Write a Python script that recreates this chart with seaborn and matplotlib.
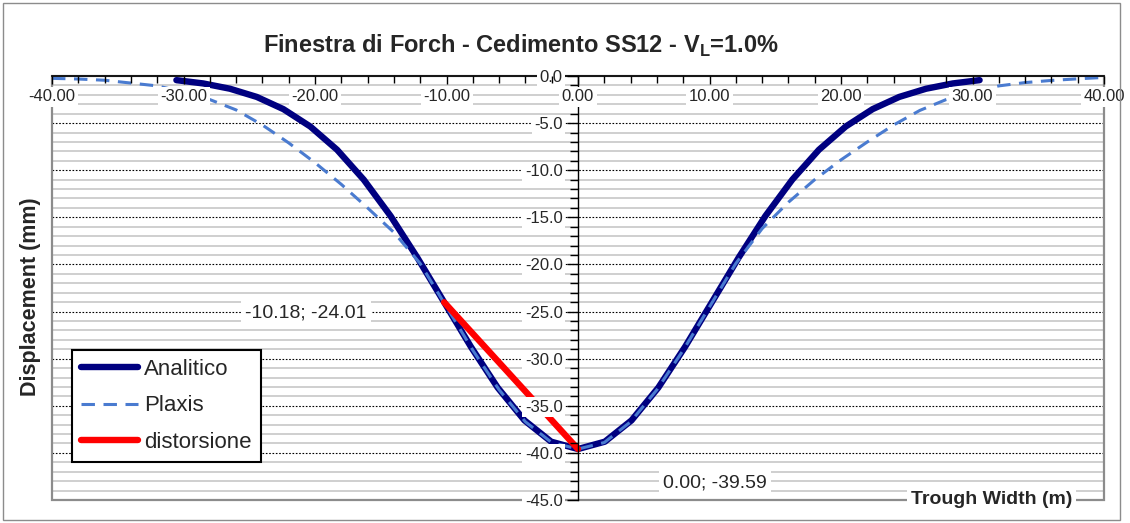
import numpy as np
import matplotlib
matplotlib.use("Agg")
import matplotlib.pyplot as plt
from matplotlib.patches import Rectangle
from matplotlib.ticker import MultipleLocator, FormatStrFormatter
import seaborn as sns

# Analytical settlement trough (m, mm)
analitico_x = [-30.54, -28.50, -26.47, -24.43, -22.40, -20.36, -18.32, -16.29,
               -14.25, -12.22, -10.18, -8.14, -6.11, -4.07, -2.04, 0.00,
               2.04, 4.07, 6.11, 8.14, 10.18, 12.22, 14.25, 16.29,
               18.32, 20.36, 22.40, 24.43, 26.47, 28.50, 30.54]
analitico_y = [-0.44, -0.79, -1.35, -2.22, -3.52, -5.36, -7.83, -11.01,
               -14.86, -19.27, -24.01, -28.75, -33.07, -36.55, -38.81, -39.59,
               -38.81, -36.55, -33.07, -28.75, -24.01, -19.27, -14.86, -11.01,
               -7.83, -5.36, -3.52, -2.22, -1.35, -0.79, -0.44]

# Plaxis FEM settlement trough (m, mm)
plaxis_x = [-40, -38, -36, -34, -32, -30, -28, -26, -24, -22, -20, -18, -16, -14,
            -12, -10, -8, -6, -4, -2, 0, 2, 4, 6, 8, 10, 12, 14, 16, 18, 20,
            22, 24, 26, 28, 30, 32, 34, 36, 38, 40]
plaxis_y = [-0.25, -0.32, -0.45, -0.75, -1.05, -1.70, -2.50, -3.60, -5.20, -7.10,
            -9.20, -11.50, -14.00, -16.60, -19.90, -24.50, -29.10, -33.30, -36.70,
            -38.90, -39.59, -38.90, -36.70, -33.30, -29.10, -24.50, -19.90, -16.20,
            -13.40, -11.00, -8.90, -7.00, -5.20, -3.65, -2.50, -1.75, -1.05, -0.70,
            -0.47, -0.30, -0.15]

# Angular distortion segment: inflection point -> trough centre
distorsione_x = [-10.18, 0.00]
distorsione_y = [-24.01, -39.59]

series_labels = ["Analitico", "Plaxis", "distorsione"]
title_text = r"Finestra di Forch - Cedimento SS12 - V$_\mathbf{L}$=1.0%"
x_label = "Trough Width (m)"
y_label = "Displacement (mm)"

sns.set_style("white")
plt.rcParams["font.family"] = ["Liberation Sans", "DejaVu Sans"]
plt.rcParams["axes.unicode_minus"] = False
plt.rcParams["mathtext.fontset"] = "custom"
plt.rcParams["mathtext.rm"] = "Liberation Sans"
plt.rcParams["mathtext.bf"] = "Liberation Sans:bold"

W, H = 1130, 523
fig = plt.figure(figsize=(W / 100, H / 100), dpi=100)
ax = fig.add_axes([52 / W, 23 / H, 1052 / W, 424 / H])
ax.set_xlim(-40, 40)
ax.set_ylim(-45, 0)

# horizontal gridlines: light minor every 1 mm, dotted major every 5 mm
minor_levels = [v for v in np.arange(-44, 0, 1.0) if v % 5 != 0]
ax.hlines(minor_levels, -40, 40, color="#cfcfcf", lw=1.4, zorder=0.6)
ax.hlines(np.arange(-40, 0, 5.0), -40, 40, color="black", lw=0.8,
          linestyles=(0, (1.5, 1.5)), zorder=0.7)

# plot-area frame
ax.add_patch(Rectangle((0, 0), 1, 1, transform=ax.transAxes, fill=False,
                       ec="#8c8c8c", lw=1.6, zorder=0.8, clip_on=False))

sns.lineplot(x=analitico_x, y=analitico_y, ax=ax, color="#000080", lw=4.6,
             label=series_labels[0], solid_capstyle="round", zorder=3)
sns.lineplot(x=plaxis_x, y=plaxis_y, ax=ax, color="#4a7bd0", lw=2.2,
             linestyle=(0, (4.4, 2.8)), label=series_labels[1], zorder=3.2)
sns.lineplot(x=distorsione_x, y=distorsione_y, ax=ax, color="#ff0000", lw=4.6,
             label=series_labels[2], solid_capstyle="round", zorder=3.4)

# axes crossing: x axis along y=0 (top), y axis along x=0
for side in ("right", "bottom"):
    ax.spines[side].set_visible(False)
ax.spines["left"].set_position(("data", 0))
ax.spines["left"].set_color("black")
ax.spines["left"].set_linewidth(1.0)
ax.spines["top"].set_color("black")
ax.spines["top"].set_linewidth(1.2)
for side in ("left", "top"):
    ax.spines[side].set_zorder(3.9)
ax.yaxis.set_zorder(4.2)
ax.xaxis.set_zorder(4.6)

ax.xaxis.set_major_locator(MultipleLocator(10))
ax.xaxis.set_minor_locator(MultipleLocator(2))
ax.xaxis.set_major_formatter(FormatStrFormatter("%.2f"))
ax.tick_params(axis="x", which="both", top=True, bottom=False, labeltop=True,
               labelbottom=False, direction="in", width=1, color="black",
               labelsize=12, pad=-20.5)
ax.tick_params(axis="x", which="major", length=6)
ax.tick_params(axis="x", which="minor", length=5)

ax.yaxis.set_major_locator(MultipleLocator(5))
ax.yaxis.set_minor_locator(MultipleLocator(1))
ax.yaxis.set_major_formatter(FormatStrFormatter("%.1f"))
ax.tick_params(axis="y", which="both", left=True, right=False, direction="out",
               width=1, color="black", labelsize=12, pad=3)
ax.tick_params(axis="y", which="major", length=8)
ax.tick_params(axis="y", which="minor", length=6)

label_box = dict(boxstyle="square,pad=0.15", fc="white", ec="none")
for lbl in ax.get_xticklabels() + ax.get_yticklabels():
    lbl.set_bbox(label_box)

ax.set_xlabel(x_label, fontsize=14, fontweight="bold",
              bbox=dict(boxstyle="square,pad=0.2", fc="white", ec="none"))
ax.xaxis.set_label_coords(0.893, 0.0)
ax.xaxis.label.set_va("center")
ax.set_ylabel(y_label, fontsize=15.5, fontweight="bold")
ax.yaxis.set_label_coords(-0.020, 0.48)
ax.yaxis.label.set_va("center")

# value labels at the two ends of the distortion segment
label_offsets = [(-138, -11), (137, -34)]
for px, py, (dx, dy) in zip(distorsione_x, distorsione_y, label_offsets):
    ax.annotate(f"{px:.2f}; {py:.2f}", xy=(px, py), xytext=(dx, dy),
                textcoords="offset pixels", ha="center", va="center",
                fontsize=14, zorder=5,
                bbox=dict(boxstyle="square,pad=0.2", fc="white", ec="none"))

leg = ax.legend(loc="upper left", bbox_to_anchor=(0.0187, 0.354),
                borderaxespad=0, frameon=True, fancybox=False, framealpha=1,
                edgecolor="black", fontsize=16, handlelength=2.6,
                handletextpad=0.27, labelspacing=0.7, borderpad=0.4)
leg.get_frame().set_linewidth(1.5)
leg.set_zorder(6)

fig.text(521 / W, 1 - 53 / H, title_text, ha="center", va="baseline",
         fontsize=17, fontweight="bold")

# outer chart border
fig.add_artist(Rectangle((3 / W, 3 / H), (1120 - 3) / W, (520 - 3) / H,
                         transform=fig.transFigure, fill=False,
                         ec="#8c8c8c", lw=1))

fig.savefig("out.png", dpi=100)
